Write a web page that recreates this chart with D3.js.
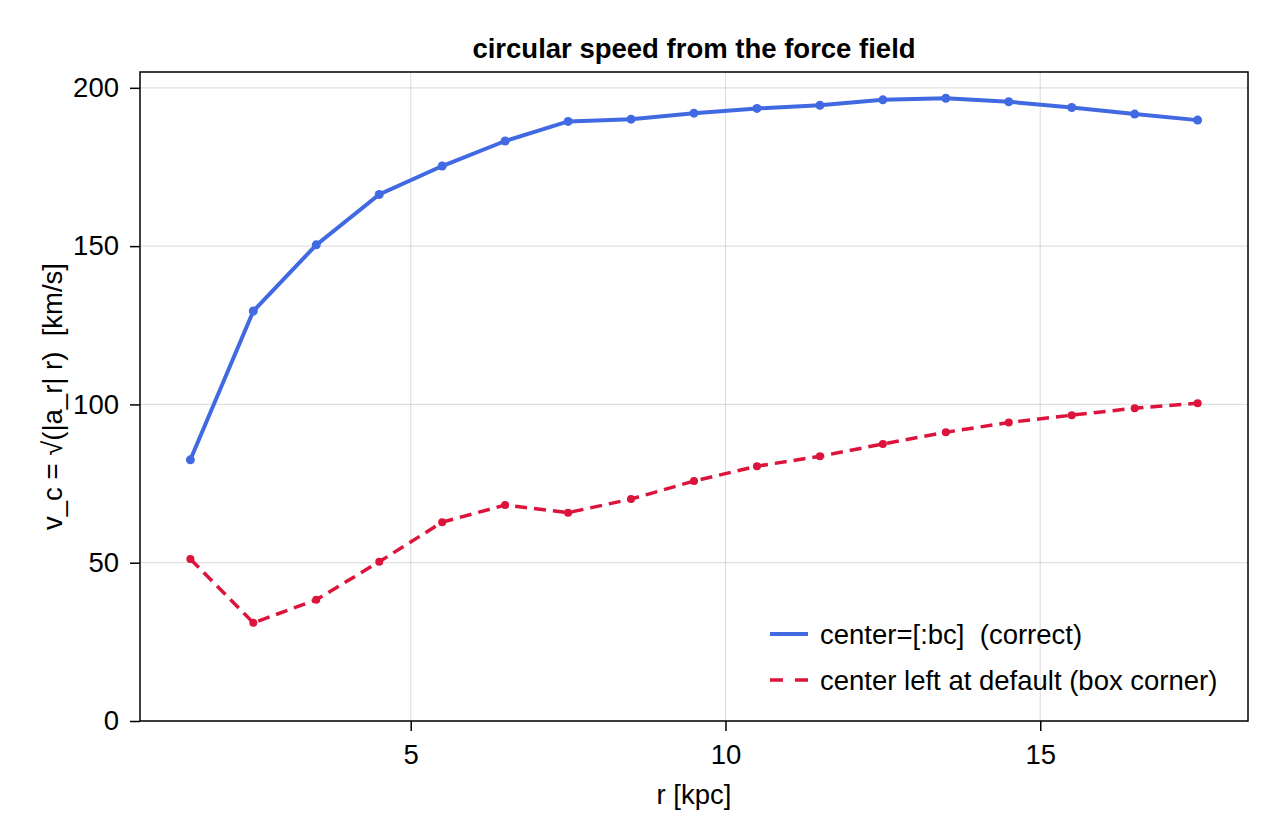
<!DOCTYPE html>
<html>
<head>
<meta charset="utf-8">
<script src="https://cdn.jsdelivr.net/npm/d3@7"></script>
<style>
  body { margin: 0; background: #fff; }
  text { font-family: "Liberation Sans", Arial, sans-serif; white-space: pre; }
</style>
</head>
<body>
<div class="chart"></div>
<script>
const svgWidth = 1280
const svgHeight = 840

const margin = { top: 72, right: 32, bottom: 119, left: 140 }
const width = svgWidth - margin.left - margin.right
const height = svgHeight - margin.top - margin.bottom
const fontSize = 27.5

// radius in kpc
const radii = [1.5, 2.5, 3.5, 4.5, 5.5, 6.5, 7.5, 8.5, 9.5, 10.5, 11.5, 12.5, 13.5, 14.5, 15.5, 16.5, 17.5]
// circular speed, km/s
const vcCorrect = [82.5, 129.5, 150.4, 166.3, 175.3, 183.2, 189.4, 190.1, 192.0, 193.5, 194.5, 196.2, 196.7, 195.6, 193.8, 191.7, 189.8]
const vcDefault = [51.2, 31.0, 38.3, 50.3, 62.8, 68.2, 65.8, 70.1, 75.8, 80.5, 83.6, 87.5, 91.2, 94.3, 96.6, 98.8, 100.4]
const xTicks = [5, 10, 15]
const yTicks = [0, 50, 100, 150, 200]

const series = [
  { label: "center=[:bc]  (correct)", values: vcCorrect, color: "#4169e1", width: 4, dash: null, legendDash: null, r: 4.5 },
  { label: "center left at default (box corner)", values: vcDefault, color: "#dc143c", width: 3.5, dash: "12,7", legendDash: "13,12", r: 4 }
]

const svg = d3.select(".chart")
  .append("svg")
  .attr("width", svgWidth)
  .attr("height", svgHeight)

const chart = svg.append("g")
  .attr("transform", `translate(${margin.left}, ${margin.top})`)

const x = d3.scaleLinear().domain([0.7, 18.3]).range([0, width])
const y = d3.scaleLinear().domain([0, 205]).range([height, 0])

// grid
chart.append("g")
  .selectAll("line")
  .data(xTicks)
  .join("line")
  .attr("x1", d => x(d)).attr("x2", d => x(d))
  .attr("y1", 0).attr("y2", height)
  .attr("stroke", "#000").attr("stroke-opacity", 0.12).attr("stroke-width", 1.2)

chart.append("g")
  .selectAll("line")
  .data(yTicks)
  .join("line")
  .attr("x1", 0).attr("x2", width)
  .attr("y1", d => y(d)).attr("y2", d => y(d))
  .attr("stroke", "#000").attr("stroke-opacity", 0.12).attr("stroke-width", 1.2)

// axes
const xAxis = chart.append("g")
  .attr("transform", `translate(0, ${height})`)
  .call(d3.axisBottom(x).tickValues(xTicks).tickSize(10).tickPadding(13).tickFormat(d3.format("d")))
const yAxis = chart.append("g")
  .call(d3.axisLeft(y).tickValues(yTicks).tickSize(10).tickPadding(11).tickFormat(d3.format("d")))

for (const ax of [xAxis, yAxis]) {
  ax.select(".domain").remove()
  ax.selectAll(".tick line").attr("stroke", "#000").attr("stroke-width", 1.5)
  ax.selectAll(".tick text").attr("font-size", fontSize).attr("fill", "#000")
    .style("font-family", "'Liberation Sans', Arial, sans-serif")
}

// frame
chart.append("rect")
  .attr("width", width).attr("height", height)
  .attr("fill", "none").attr("stroke", "#000").attr("stroke-width", 1.5)

// lines + markers
const line = d3.line().x((d, i) => x(radii[i])).y(d => y(d))

series.forEach(s => {
  chart.append("path")
    .datum(s.values)
    .attr("d", line)
    .attr("fill", "none")
    .attr("stroke", s.color)
    .attr("stroke-width", s.width)
    .attr("stroke-dasharray", s.dash)

  chart.append("g")
    .selectAll("circle")
    .data(s.values)
    .join("circle")
    .attr("cx", (d, i) => x(radii[i]))
    .attr("cy", d => y(d))
    .attr("r", s.r)
    .attr("fill", s.color)
})

// legend
const legend = chart.append("g")
  .attr("transform", `translate(${770 - margin.left}, ${634 - margin.top})`)

series.forEach((s, i) => {
  const row = legend.append("g").attr("transform", `translate(0, ${i * 46})`)
  row.append("line")
    .attr("x1", 0).attr("x2", 38)
    .attr("stroke", s.color)
    .attr("stroke-width", s.width)
    .attr("stroke-dasharray", s.legendDash)
  row.append("text")
    .attr("x", 50).attr("dy", "0.35em")
    .attr("font-size", fontSize)
    .text(s.label)
})

// title and labels
svg.append("text")
  .attr("x", margin.left + width / 2).attr("y", 58)
  .attr("text-anchor", "middle")
  .attr("font-size", fontSize).attr("font-weight", "bold")
  .text("circular speed from the force field")

svg.append("text")
  .attr("x", margin.left + width / 2).attr("y", 804)
  .attr("text-anchor", "middle")
  .attr("font-size", fontSize)
  .text("r [kpc]")

svg.append("text")
  .attr("transform", `translate(62, ${margin.top + height / 2}) rotate(-90)`)
  .attr("text-anchor", "middle")
  .attr("font-size", fontSize)
  .text("v_c = √(|a_r| r)  [km/s]")
</script>
</body>
</html>
